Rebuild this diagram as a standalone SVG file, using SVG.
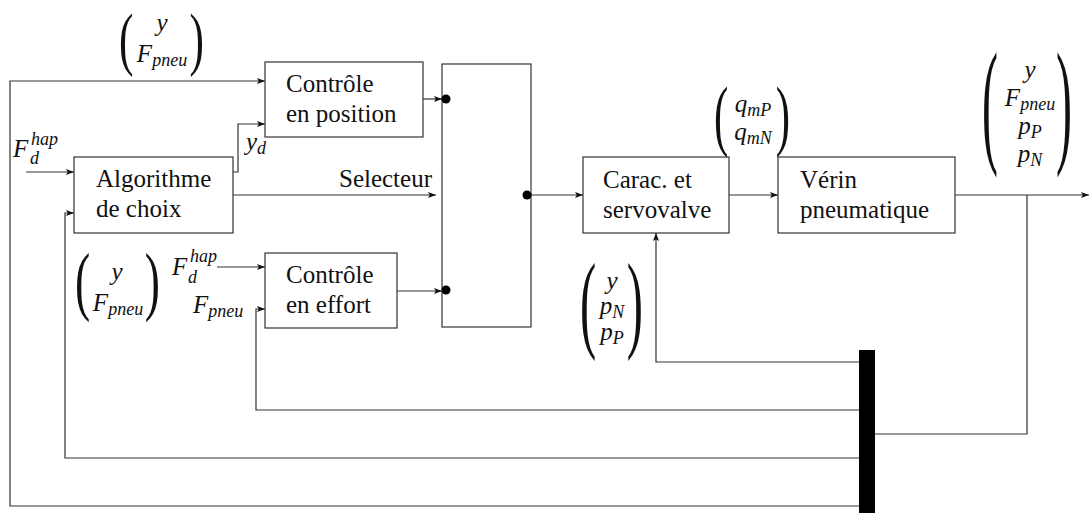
<svg xmlns="http://www.w3.org/2000/svg" width="1089" height="513" viewBox="0 0 1089 513">
<defs>
<marker id="ar" markerUnits="userSpaceOnUse" markerWidth="10" markerHeight="8" refX="8" refY="3" orient="auto">
<path d="M0,0 L8,3 L0,6 L1.8,3 z" fill="#111"/>
</marker>
</defs>
<style>
.box{fill:#fff;stroke:#333;stroke-width:1.2}
.ln{fill:none;stroke:#333;stroke-width:1.2}
.lab{font-family:'Liberation Serif','DejaVu Serif',serif;font-size:25px;fill:#111}
.m{font-family:'Liberation Serif','DejaVu Serif',serif;font-style:italic;font-size:25px;fill:#111}
.s{font-size:18px}
.p{font-family:'Liberation Serif','DejaVu Serif',serif;fill:#111}
</style>
<rect width="1089" height="513" fill="#fff"/>
<g id="connectors">
<path class="ln" d="M859,506 H10 V81 H265" marker-end="url(#ar)"/>
<path class="ln" d="M26,172 H74" marker-end="url(#ar)"/>
<path class="ln" d="M859,458 H65 V213 H74" marker-end="url(#ar)"/>
<path class="ln" d="M233,172 H238 V124 H265" marker-end="url(#ar)"/>
<path class="ln" d="M233,195 H436" marker-end="url(#ar)"/>
<path class="ln" d="M423,99 H442" marker-end="url(#ar)"/>
<path class="ln" d="M397,291 H442" marker-end="url(#ar)"/>
<path class="ln" d="M217,267 H265" marker-end="url(#ar)"/>
<path class="ln" d="M859,410 H256 V309 H265" marker-end="url(#ar)"/>
<path class="ln" d="M457,108 L516,186" marker-end="url(#ar)"/>
<path class="ln" d="M531,195 H583" marker-end="url(#ar)"/>
<path class="ln" d="M729,195 H778" marker-end="url(#ar)"/>
<path class="ln" d="M955,195 H1089" marker-end="url(#ar)"/>
<path class="ln" d="M1027,195 V434 H875"/>
<path class="ln" d="M859,362 H656 V233" marker-end="url(#ar)"/>
</g>
<g id="pos">
<rect class="box" x="265" y="62" width="158" height="75"/>
<text class="lab" x="286" y="92">Contrôle</text>
<text class="lab" x="286" y="122">en position</text>
</g>
<g id="algo">
<rect class="box" x="74" y="157" width="159" height="76"/>
<text class="lab" x="96" y="187">Algorithme</text>
<text class="lab" x="96" y="217">de choix</text>
</g>
<g id="effort">
<rect class="box" x="265" y="253" width="132" height="75"/>
<text class="lab" x="286" y="283">Contrôle</text>
<text class="lab" x="286" y="313">en effort</text>
</g>
<g id="selector">
<rect class="box" x="442" y="64" width="89" height="263"/>
<circle cx="446" cy="99" r="4.5" fill="#000"/>
<circle cx="446" cy="290" r="4.5" fill="#000"/>
<circle cx="527" cy="195" r="4.5" fill="#000"/>
</g>
<g id="carac">
<rect class="box" x="583" y="157" width="146" height="76"/>
<text class="lab" x="603" y="188">Carac. et</text>
<text class="lab" x="603" y="218">servovalve</text>
</g>
<g id="verin">
<rect class="box" x="778" y="157" width="177" height="76"/>
<text class="lab" x="800" y="188">Vérin</text>
<text class="lab" x="800" y="218">pneumatique</text>
</g>
<g id="bus">
<rect x="859" y="350" width="16" height="163" fill="#000"/>
</g>
<g id="labels">
<text class="lab" x="432" y="187" text-anchor="end">Selecteur</text>
<text class="p" font-size="70" transform="translate(119,62) scale(0.62,1)">(</text>
<text class="p" font-size="70" text-anchor="end" transform="translate(204,62) scale(0.62,1)">)</text>
<text class="m" x="162" y="31" text-anchor="middle">y</text>
<text class="m" x="162" y="62" text-anchor="middle">F<tspan class="s" dy="4">pneu</tspan></text>
<text class="m" x="13" y="157">F</text>
<text class="m s" x="31" y="145">hap</text>
<text class="m s" x="30" y="164">d</text>
<text class="m" x="246" y="150">y<tspan class="s" dy="4">d</tspan></text>
<text class="p" font-size="76" transform="translate(75,306) scale(0.6,1)">(</text>
<text class="p" font-size="76" text-anchor="end" transform="translate(160,306) scale(0.6,1)">)</text>
<text class="m" x="117" y="280" text-anchor="middle">y</text>
<text class="m" x="118" y="311" text-anchor="middle">F<tspan class="s" dy="4">pneu</tspan></text>
<text class="m" x="172" y="275">F</text>
<text class="m s" x="190" y="262">hap</text>
<text class="m s" x="188" y="283">d</text>
<text class="m" x="193" y="313">F<tspan class="s" dy="4">pneu</tspan></text>
<text class="p" font-size="78" transform="translate(714,141) scale(0.55,1)">(</text>
<text class="p" font-size="78" text-anchor="end" transform="translate(790,141) scale(0.55,1)">)</text>
<text class="m" x="753" y="112" text-anchor="middle">q<tspan class="s" dy="4">mP</tspan></text>
<text class="m" x="753" y="140" text-anchor="middle">q<tspan class="s" dy="4">mN</tspan></text>
<text class="p" font-size="137" transform="translate(982,148) scale(0.35,1)">(</text>
<text class="p" font-size="137" text-anchor="end" transform="translate(1072,148) scale(0.35,1)">)</text>
<text class="m" x="1030" y="78" text-anchor="middle">y</text>
<text class="m" x="1030" y="106" text-anchor="middle">F<tspan class="s" dy="4">pneu</tspan></text>
<text class="m" x="1030" y="134" text-anchor="middle">p<tspan class="s" dy="4">P</tspan></text>
<text class="m" x="1030" y="162" text-anchor="middle">p<tspan class="s" dy="4">N</tspan></text>
<text class="p" font-size="108" transform="translate(580,338) scale(0.45,1)">(</text>
<text class="p" font-size="108" text-anchor="end" transform="translate(643,338) scale(0.45,1)">)</text>
<text class="m" x="612" y="289" text-anchor="middle">y</text>
<text class="m" x="612" y="314" text-anchor="middle">p<tspan class="s" dy="4">N</tspan></text>
<text class="m" x="612" y="340" text-anchor="middle">p<tspan class="s" dy="4">P</tspan></text>
</g>
</svg>
